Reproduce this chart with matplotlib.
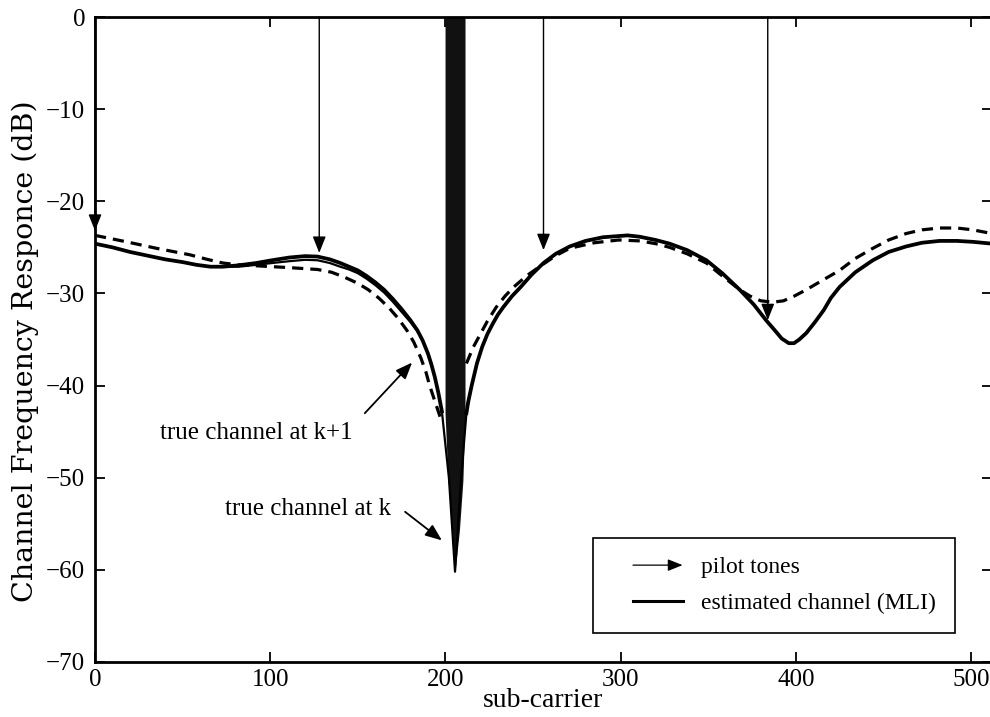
import numpy as np
import matplotlib
matplotlib.use("Agg")
import matplotlib.pyplot as plt
from matplotlib.lines import Line2D
from matplotlib.patches import FancyArrowPatch
from matplotlib.legend_handler import HandlerBase

# estimated channel (MLI), two pieces either side of the null
est_left_x = [0, 10, 20, 30, 40, 50, 58, 66, 73, 82, 92, 101, 111, 120, 127, 134, 140, 145, 150, 155, 160,
              165, 170, 175, 180, 184, 187, 190, 192, 194, 196, 198]
est_left_y = [-24.6, -25.0, -25.5, -25.9, -26.3, -26.6, -26.9, -27.1, -27.1, -26.95, -26.7, -26.4, -26.1,
              -25.95, -26.0, -26.3, -26.7, -27.1, -27.5, -28.1, -28.8, -29.6, -30.6, -31.7, -32.9, -34.0,
              -35.1, -36.5, -37.7, -39.1, -40.8, -42.8]
est_right_x = [212, 213, 215, 218, 221, 224, 227, 230, 233, 238, 243, 249, 256, 263, 271, 280, 290, 304, 311,
               320, 328, 338, 349, 358, 368, 376, 383, 388, 392, 396, 399, 402, 406, 411, 416, 420, 425, 434,
               444, 453, 463, 472, 482, 492, 501, 512]
est_right_y = [-43.0, -41.8, -40.0, -37.6, -35.8, -34.4, -33.3, -32.3, -31.5, -30.3, -29.3, -28.0, -26.7,
               -25.7, -24.9, -24.3, -23.9, -23.7, -23.85, -24.2, -24.6, -25.3, -26.4, -27.8, -29.6, -31.2,
               -32.9, -34.0, -34.9, -35.4, -35.4, -35.0, -34.3, -33.1, -31.8, -30.5, -29.3, -27.7, -26.4,
               -25.5, -24.9, -24.5, -24.3, -24.3, -24.4, -24.6]

# true channel at k (thin solid): own values left of the null, the V, then same as the estimate
true_k_left_x = [0, 10, 20, 30, 40, 50, 58, 66, 73, 82, 92, 101, 111, 120, 127, 134, 140, 145, 150, 155, 160,
                 165, 170, 175, 180, 184, 187, 190, 192, 194, 196, 198]
true_k_left_y = [-24.6, -25.0, -25.5, -25.9, -26.3, -26.6, -26.9, -27.1, -27.1, -27.1, -26.9, -26.7, -26.5,
                 -26.35, -26.4, -26.7, -27.1, -27.4, -27.8, -28.4, -29.1, -29.9, -30.9, -32.0, -33.1, -34.1,
                 -35.1, -36.5, -37.7, -39.1, -40.8, -42.8]
null_x = [202, 205.5, 209]
null_y = [-50.0, -60.2, -50.0]

# true channel at k+1 (dashed)
dash_left_x = [0, 18, 35, 54, 64, 73, 82, 92, 111, 127, 135, 142, 150, 156, 162, 168, 173, 178, 182, 186, 189,
               191, 194, 197]
dash_left_y = [-23.7, -24.4, -25.1, -25.8, -26.3, -26.7, -26.9, -27.0, -27.2, -27.4, -27.7, -28.2, -28.9,
               -29.6, -30.5, -31.6, -32.7, -34.0, -35.3, -37.0, -38.6, -40.0, -41.7, -43.4]
dash_right_x = [212, 214, 216, 220, 224, 229, 234, 239, 247, 256, 263, 271, 285, 299, 311, 320, 328, 338, 349,
                358, 368, 374, 380, 387, 393, 399, 406, 415, 425, 434, 444, 453, 463, 472, 482, 492, 501, 512]
dash_right_y = [-37.6, -36.7, -35.8, -34.4, -33.0, -31.5, -30.3, -29.3, -28.0, -26.8, -25.9, -25.1, -24.5,
                -24.2, -24.3, -24.6, -25.0, -25.7, -26.7, -28.1, -29.6, -30.3, -30.8, -30.95, -30.8, -30.3,
                -29.6, -28.6, -27.5, -26.2, -25.1, -24.2, -23.5, -23.1, -22.9, -22.9, -23.1, -23.5]

# dense oscillation of the estimate around the null
band_x = [199.8, 201.5, 204.0, 205.5, 208.0, 210.0, 211.2]
band_bot = [-43.0, -50.3, -55.7, -60.2, -55.7, -50.3, -43.0]

# pilot tones
pilot_x = [0, 128, 256, 384]
pilot_tip = [-23.2, -25.6, -25.3, -32.9]

xticks = [0, 100, 200, 300, 400, 500]
yticks = [0, -10, -20, -30, -40, -50, -60, -70]

serif = "Liberation Serif"
head = "-|>,head_length=0.5,head_width=0.2"


class LegendArrow(HandlerBase):
    def __init__(self, arrow):
        super().__init__()
        self.arrow = arrow

    def create_artists(self, legend, orig_handle, xdescent, ydescent, width, height, fontsize, trans):
        y = height / 2 - ydescent
        x0 = -xdescent + 0.3 * width
        x1 = -xdescent + width
        if self.arrow:
            a = FancyArrowPatch((x0, y), (x1, y), arrowstyle=head, mutation_scale=18,
                                lw=0.9, color="k", transform=trans, shrinkA=0, shrinkB=0)
        else:
            a = Line2D([x0, x1], [y, y], lw=2.2, color="k", transform=trans)
        return [a]


fig = plt.figure(figsize=(9.9, 7.17), dpi=100)
ax = fig.add_axes([95 / 990, 55 / 717, 897 / 990, 645 / 717])

ax.fill_between(band_x, band_bot, 0, color="#111111", lw=0)
ax.plot(true_k_left_x + null_x + est_right_x, true_k_left_y + null_y + est_right_y, color="k", lw=1.6)
ax.plot(est_left_x, est_left_y, color="k", lw=2.7)
ax.plot(est_right_x, est_right_y, color="k", lw=2.7)
ax.plot(dash_left_x, dash_left_y, color="k", lw=2.3, dashes=(3.5, 2.2))
ax.plot(dash_right_x, dash_right_y, color="k", lw=2.3, dashes=(3.5, 2.2))

for px, tip in zip(pilot_x, pilot_tip):
    ax.annotate("", xy=(px, tip), xytext=(px, 0),
                arrowprops=dict(arrowstyle=head, mutation_scale=20, lw=1.0, color="k",
                                shrinkA=0, shrinkB=0))

ax.text(92, -45.2, "true channel at k+1", ha="center", va="center", fontsize=18, family=serif)
ax.annotate("", xy=(181, -37.5), xytext=(154, -43.0),
            arrowprops=dict(arrowstyle=head, mutation_scale=20, lw=1.3, color="k", shrinkA=0, shrinkB=0))
ax.text(121.6, -53.4, "true channel at k", ha="center", va="center", fontsize=18, family=serif)
ax.annotate("", xy=(198, -56.8), xytext=(177, -53.7),
            arrowprops=dict(arrowstyle=head, mutation_scale=20, lw=1.3, color="k", shrinkA=0, shrinkB=0))

ax.set_xlim(0, 512)
ax.set_ylim(-70, 0)
ax.set_xticks(xticks)
ax.set_yticks(yticks)
ax.tick_params(direction="in", length=7, width=1.3, top=True, right=True, labelsize=18)
ax.tick_params(axis="x", pad=5)
ax.tick_params(axis="y", pad=7)
for lab in ax.get_xticklabels() + ax.get_yticklabels():
    lab.set_family(serif)
for sp in ax.spines.values():
    sp.set_linewidth(2.0)

ax.set_xlabel("sub-carrier", fontsize=20, family=serif, labelpad=-2)
ax.set_ylabel("Channel Frequency Responce (dB)", fontsize=20.5, family="DejaVu Serif")
ax.yaxis.set_label_coords(-0.062, 0.482)

pilot_h = Line2D([], [])
est_h = Line2D([], [])
leg = ax.legend([pilot_h, est_h], ["pilot tones", "estimated channel (MLI)"],
                handler_map={pilot_h: LegendArrow(True), est_h: LegendArrow(False)},
                loc="lower right", bbox_to_anchor=(0.959, 0.045), borderaxespad=0,
                fancybox=False, edgecolor="k", framealpha=1, handlelength=3.0,
                handletextpad=0.8, borderpad=0.8, labelspacing=0.6,
                prop={"family": serif, "size": 17})
leg.get_frame().set_linewidth(1.2)

fig.savefig("out.png", dpi=100)
